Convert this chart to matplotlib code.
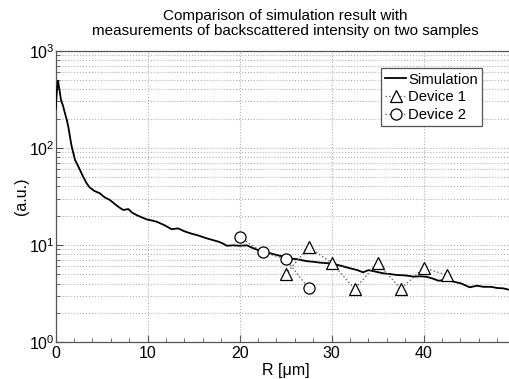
import matplotlib
matplotlib.use("Agg")
import matplotlib.pyplot as plt
from matplotlib.ticker import LogLocator, MultipleLocator, FixedLocator, LogFormatterMathtext, NullFormatter

plt.rcParams['font.family'] = ['Liberation Sans', 'DejaVu Sans']
plt.rcParams['mathtext.fontset'] = 'custom'
plt.rcParams['mathtext.rm'] = 'Liberation Sans'
plt.rcParams['mathtext.it'] = 'Liberation Sans:italic'
plt.rcParams['mathtext.default'] = 'regular'

# Simulation curve
sim_r = [0.0, 0.12, 0.25, 0.4, 0.58, 0.8, 1.01, 1.2, 1.37, 1.55, 1.74, 1.92, 2.1, 2.4, 2.64,
         3.0, 3.37, 3.7, 4.2, 4.8, 5.3, 5.9, 6.5, 7.0, 7.35, 7.9, 8.3, 8.8, 9.2, 9.9,
         10.5, 11.0, 11.8, 12.6, 13.3, 14.0, 14.6, 15.5, 16.4, 17.1, 17.7, 18.2, 18.6,
         19.3, 20.0, 20.8, 21.4, 22.0, 22.7, 23.3, 24.2, 25.3, 26.3, 27.3, 28.0, 28.75,
         29.4, 30.1, 31.0, 32.0, 32.8, 33.4, 34.0, 34.8, 35.6, 36.4, 37.1, 38.0, 38.9,
         39.6, 40.3, 41.0, 41.6, 42.4, 43.2, 44.1, 45.0, 45.8, 46.5, 47.3, 48.0, 48.65,
         49.4, 50.0]
sim_v = [250, 380, 490, 400, 310, 270, 226, 195, 165, 130, 103, 88, 75, 66, 59,
         50, 43, 39, 36, 34, 31, 29, 26, 24, 22.9, 23.4, 21.5, 20.3, 19.5, 18.3,
         17.8, 17.3, 16.0, 14.5, 14.8, 13.8, 13.2, 12.5, 11.7, 11.2, 10.8, 10.3, 9.8,
         9.9, 9.8, 9.9, 9.3, 8.85, 8.6, 8.2, 7.8, 7.3, 7.1, 6.8, 6.7, 6.56,
         6.5, 6.4, 6.1, 5.74, 5.5, 5.22, 5.5, 5.3, 5.1, 5.0, 4.9, 4.85, 4.71,
         4.75, 4.7, 4.5, 4.28, 4.35, 4.2, 4.0, 3.66, 3.8, 3.7, 3.7, 3.6, 3.57,
         3.43, 3.4]

# Device 1 (triangles)
dev1_r = [25.0, 27.5, 30.0, 32.5, 35.0, 37.5, 40.0, 42.5]
dev1_v = [5.0, 9.45, 6.56, 3.51, 6.56, 3.51, 5.82, 4.9]

# Device 2 (circles)
dev2_r = [20.0, 22.5, 25.0, 27.5]
dev2_v = [12.0, 8.4, 7.16, 3.57]

x_ticks = [0, 10, 20, 30, 40]

title_text = "Comparison of simulation result with\nmeasurements of backscattered intensity on two samples"

fig = plt.figure(figsize=(5.10, 3.79), dpi=100)
ax = fig.add_axes([0.1092, 0.0976, 460 / 510, 0.7686])

ax.plot(sim_r, sim_v, color='black', lw=1.3, label='Simulation', zorder=3)
ax.plot(dev1_r, dev1_v, color='#666666', ls=':', lw=1.0, marker='^', ms=8.5,
        mfc='white', mec='black', mew=0.9, label='Device 1', zorder=4)
ax.plot(dev2_r, dev2_v, color='#666666', ls=':', lw=1.0, marker='o', ms=8,
        mfc='white', mec='black', mew=0.9, label='Device 2', zorder=4)

ax.set_yscale('log')
ax.set_xlim(0, 50)
ax.set_ylim(1, 1000)
ax.yaxis.set_major_locator(LogLocator(base=10, numticks=10))
ax.yaxis.set_minor_locator(LogLocator(base=10, subs=range(2, 10), numticks=20))
ax.yaxis.set_major_formatter(LogFormatterMathtext())
ax.yaxis.set_minor_formatter(NullFormatter())
ax.xaxis.set_major_locator(FixedLocator(x_ticks))
ax.xaxis.set_minor_locator(MultipleLocator(2))

ax.grid(True, which='major', axis='both', color='#b0b0b0', ls=':', lw=0.8)
ax.grid(True, which='minor', axis='y', color='#b0b0b0', ls=':', lw=0.8)
ax.set_axisbelow(True)

for s in ax.spines.values():
    s.set_color('#555555')
    s.set_linewidth(0.9)
ax.tick_params(which='both', direction='in', color='#555555', labelsize=11.5,
               top=False, right=False)
ax.tick_params(which='major', length=5)
ax.tick_params(which='minor', length=3)
ax.tick_params(axis='y', pad=1)
ax.tick_params(axis='x', pad=3)

ax.set_xlabel('R [μm]', fontsize=11.5, labelpad=1)
ax.set_ylabel('(a.u.)', fontsize=11.5, labelpad=0)
ax.set_title(title_text, fontsize=11, linespacing=1.15, pad=11)

leg = ax.legend(loc='upper left', bbox_to_anchor=(0.7066, 0.9405), fontsize=10.7,
                frameon=True, fancybox=False, framealpha=1, edgecolor='#555555',
                handlelength=1.4, handletextpad=0.15, borderpad=0.3,
                labelspacing=0.25, borderaxespad=0)
leg.get_frame().set_linewidth(0.9)

fig.savefig('out.png', dpi=100)
